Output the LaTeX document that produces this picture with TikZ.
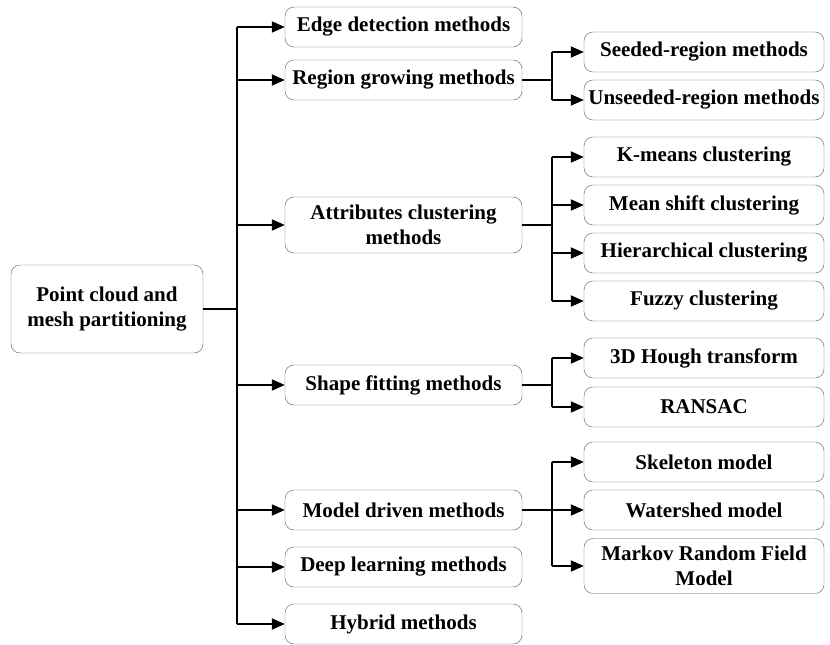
\documentclass[tikz,border=0pt]{standalone}
\usepackage{fontspec}
\setmainfont{Liberation Serif}
\usetikzlibrary{arrows.meta,positioning}

\begin{document}
\begin{tikzpicture}[x=1pt, y=-1pt, >={Triangle[length=13pt,width=11pt]},
    box/.style={draw=black!65, rounded corners=9pt, align=center, inner sep=2pt,
        font=\fontsize{21}{25}\selectfont\bfseries},
    lone/.style={box, minimum width=237pt, minimum height=40pt},
    ltwo/.style={box, minimum width=240pt, minimum height=40pt},
    link/.style={line width=1.8pt}]
    \useasboundingbox (0,0) rectangle (830,645);

    % Root
    \node[box, minimum width=192pt, minimum height=88pt] (root) at (107,309)
        {Point cloud and\\mesh partitioning};

    % First level
    \node[lone] (edge)   at (403.5,27)  {Edge detection methods};
    \node[lone] (region) at (403.5,80)  {Region growing methods};
    \node[lone, minimum height=56pt] (attr) at (403.5,225) {Attributes clustering\\methods};
    \node[lone] (shape)  at (403.5,385) {Shape fitting methods};
    \node[lone] (model)  at (403.5,510) {Model driven methods};
    \node[lone] (deep)   at (403.5,567) {Deep learning methods};
    \node[lone] (hybrid) at (403.5,624) {Hybrid methods};

    % Second level
    \node[ltwo] (seeded)   at (704,52)  {Seeded-region methods};
    \node[ltwo] (unseeded) at (704,100) {Unseeded-region methods};
    \node[ltwo] (kmeans)   at (704,157) {K-means clustering};
    \node[ltwo] (meanshift) at (704,205) {Mean shift clustering};
    \node[ltwo] (hier)     at (704,253) {Hierarchical clustering};
    \node[ltwo] (fuzzy)    at (704,301) {Fuzzy clustering};
    \node[ltwo] (hough)    at (704,358) {3D Hough transform};
    \node[ltwo] (ransac)   at (704,407) {RANSAC};
    \node[ltwo] (skeleton) at (704,462) {Skeleton model};
    \node[ltwo] (watershed) at (704,510) {Watershed model};
    \node[ltwo, minimum height=55pt] (markov) at (704,566) {Markov Random Field\\Model};

    % Trunk
    \draw[link] (root.east) -- (237,309) coordinate (t);
    \draw[link] (t |- edge) -- (t |- hybrid);
    \foreach \n in {edge,region,attr,shape,model,deep,hybrid}
        \draw[link,->] (t |- \n.west) -- (\n.west);

    % Forks
    \draw[link] (region.east) -- (552,80) coordinate (f1);
    \draw[link] (f1 |- seeded) -- (f1 |- unseeded);
    \foreach \n in {seeded,unseeded}
        \draw[link,->] (f1 |- \n.west) -- (\n.west);

    \draw[link] (attr.east) -- (552,225) coordinate (f2);
    \draw[link] (f2 |- kmeans) -- (f2 |- fuzzy);
    \foreach \n in {kmeans,meanshift,hier,fuzzy}
        \draw[link,->] (f2 |- \n.west) -- (\n.west);

    \draw[link] (shape.east) -- (552,385) coordinate (f3);
    \draw[link] (f3 |- hough) -- (f3 |- ransac);
    \foreach \n in {hough,ransac}
        \draw[link,->] (f3 |- \n.west) -- (\n.west);

    \draw[link] (model.east) -- (552,510) coordinate (f4);
    \draw[link] (f4 |- skeleton) -- (f4 |- markov);
    \foreach \n in {skeleton,watershed,markov}
        \draw[link,->] (f4 |- \n.west) -- (\n.west);
\end{tikzpicture}
\end{document}
